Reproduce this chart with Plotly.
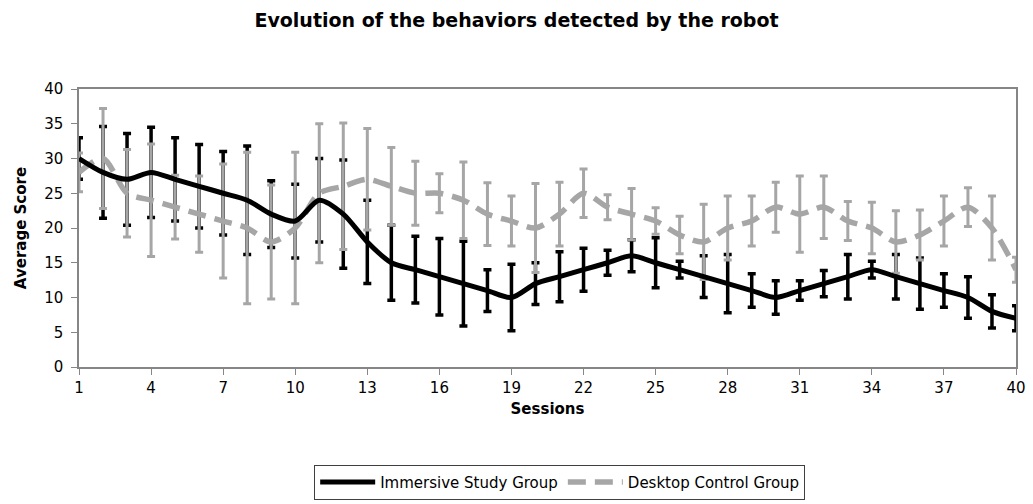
import plotly.graph_objects as go

# Session numbers
sessions = list(range(1, 41))

# Average score per session and its error margin
immersive = [30, 28, 27, 28, 27, 26, 25, 24, 22, 21,
             24, 22, 18, 15, 14, 13, 12, 11, 10, 12,
             13, 14, 15, 16, 15, 14, 13, 12, 11, 10,
             11, 12, 13, 14, 13, 12, 11, 10, 8, 7]
immersive_err = [3.0, 6.6, 6.6, 6.5, 6.0, 6.0, 6.0, 7.8, 4.8, 5.3,
                 6.0, 7.8, 6.0, 5.4, 4.8, 5.5, 6.1, 3.0, 4.8, 3.0,
                 3.6, 3.1, 1.8, 2.3, 3.6, 1.2, 3.0, 4.2, 2.4, 2.4,
                 1.4, 1.9, 3.2, 1.2, 3.2, 3.7, 2.4, 3.0, 2.4, 1.8]

desktop = [28, 30, 25, 24, 23, 22, 21, 20, 18, 20,
           25, 26, 27, 26, 25, 25, 24, 22, 21, 20,
           22, 25, 23, 22, 21, 19, 18, 20, 21, 23,
           22, 23, 21, 20, 18, 19, 21, 23, 20, 14]
desktop_err = [2.8, 7.2, 6.3, 8.1, 4.6, 5.5, 8.2, 10.9, 8.2, 10.9,
               10.0, 9.1, 7.3, 5.6, 4.6, 2.8, 5.5, 4.5, 3.6, 6.4,
               4.6, 3.5, 1.8, 3.7, 1.9, 2.7, 5.4, 4.6, 3.6, 3.6,
               5.5, 4.5, 2.8, 3.7, 4.5, 3.6, 3.6, 2.8, 4.6, 1.8]

x_ticks = list(range(1, 41, 3))

BLACK = "#000000"
GREY = "#a6a6a6"
AXIS = "#868686"
FONT = "DejaVu Sans, Liberation Sans, Arial, sans-serif"

fig = go.Figure()

# Error bars of the immersive group, drawn beneath everything else
fig.add_trace(go.Scatter(
    x=sessions, y=immersive, mode="markers",
    marker=dict(size=1, opacity=0),
    error_y=dict(type="data", array=immersive_err, visible=True,
                 color=BLACK, thickness=3.5, width=4),
    showlegend=False, hoverinfo="skip",
))

# Desktop control group: dashed smoothed line with its error bars
fig.add_trace(go.Scatter(
    x=sessions, y=desktop, mode="lines",
    name="Desktop Control Group",
    line=dict(color=GREY, width=5.5, dash="18px,9px", shape="spline", smoothing=0.8),
    error_y=dict(type="data", array=desktop_err, visible=True,
                 color=GREY, thickness=3, width=4),
))

# Immersive study group line on top
fig.add_trace(go.Scatter(
    x=sessions, y=immersive, mode="lines",
    name="Immersive Study Group",
    line=dict(color=BLACK, width=5, shape="spline", smoothing=0.8),
))

fig.update_layout(
    width=1033, height=504,
    margin=dict(l=79, r=17, t=89, b=137, autoexpand=False),
    paper_bgcolor="white", plot_bgcolor="white",
    font=dict(family=FONT, size=15, color="black"),
    title=dict(text="<b>Evolution of the behaviors detected by the robot</b>",
               x=0.5, xanchor="center", y=0.96, yanchor="middle",
               font=dict(size=19)),
    showlegend=True,
    legend=dict(orientation="h", x=0.513, xanchor="center",
                y=-0.415, yanchor="middle",
                traceorder="reversed",
                bordercolor="#404040", borderwidth=1,
                font=dict(size=15), itemwidth=55),
    xaxis=dict(range=[1, 40], tickmode="array", tickvals=x_ticks,
               showgrid=False, zeroline=False,
               showline=True, linecolor=AXIS, linewidth=1.5, mirror=True,
               ticks="outside", ticklen=6, tickcolor=AXIS,
               tickfont=dict(size=15),
               title=dict(text="<b>Sessions</b>", font=dict(size=15), standoff=8)),
    yaxis=dict(range=[0, 40], dtick=5,
               showgrid=False, zeroline=False,
               showline=True, linecolor=AXIS, linewidth=1.5, mirror=True,
               ticks="outside", ticklen=6, tickcolor=AXIS,
               ticklabelstandoff=5,
               tickfont=dict(size=15),
               title=dict(text="<b>Average Score</b>", font=dict(size=15), standoff=14)),
)

fig.write_html("out.html")
